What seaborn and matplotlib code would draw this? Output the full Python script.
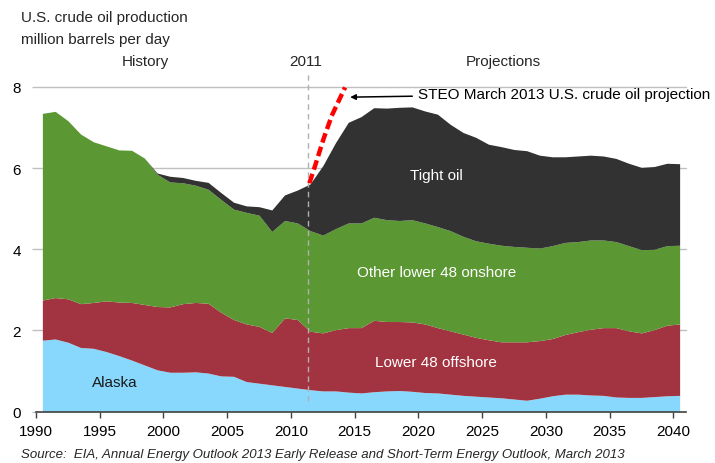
import numpy as np
import matplotlib
matplotlib.use("Agg")
import matplotlib.pyplot as plt
import seaborn as sns

# ---------------- data (million barrels per day) ----------------
years = list(range(1990, 2041))

# upper boundary of each stacked layer
alaska_top = [1.76, 1.79, 1.71, 1.58, 1.56, 1.48, 1.38, 1.27, 1.15, 1.03,
              0.97, 0.97, 0.98, 0.95, 0.88, 0.87, 0.74, 0.70, 0.66, 0.62,
              0.58, 0.54, 0.51, 0.51, 0.48, 0.46, 0.49, 0.51, 0.52, 0.50,
              0.47, 0.46, 0.43, 0.40, 0.38, 0.36, 0.34, 0.31, 0.28, 0.33,
              0.39, 0.43, 0.43, 0.41, 0.40, 0.36, 0.35, 0.35, 0.37, 0.39,
              0.40]
offshore_top = [2.75, 2.81, 2.78, 2.66, 2.69, 2.73, 2.70, 2.69, 2.64, 2.59,
                2.58, 2.66, 2.69, 2.67, 2.45, 2.27, 2.16, 2.10, 1.95, 2.31,
                2.27, 1.98, 1.94, 2.02, 2.07, 2.07, 2.25, 2.22, 2.22, 2.21,
                2.16, 2.07, 1.99, 1.91, 1.83, 1.77, 1.72, 1.72, 1.72, 1.75,
                1.80, 1.90, 1.97, 2.03, 2.07, 2.07, 1.99, 1.94, 2.02, 2.13,
                2.16]
onshore_top = [7.35, 7.40, 7.17, 6.84, 6.65, 6.55, 6.45, 6.44, 6.25, 5.85,
               5.66, 5.64, 5.58, 5.48, 5.23, 4.99, 4.91, 4.84, 4.44, 4.71,
               4.65, 4.46, 4.35, 4.51, 4.65, 4.65, 4.79, 4.73, 4.71, 4.73,
               4.65, 4.56, 4.46, 4.32, 4.21, 4.15, 4.10, 4.07, 4.05, 4.03,
               4.09, 4.17, 4.19, 4.23, 4.23, 4.19, 4.09, 3.99, 4.00, 4.09,
               4.10]
tight_top = [7.35, 7.40, 7.17, 6.84, 6.65, 6.55, 6.45, 6.44, 6.25, 5.88,
             5.80, 5.77, 5.70, 5.65, 5.40, 5.16, 5.07, 5.05, 4.97, 5.34,
             5.46, 5.61, 6.06, 6.63, 7.13, 7.27, 7.49, 7.48, 7.50, 7.51,
             7.41, 7.33, 7.08, 6.88, 6.76, 6.59, 6.53, 6.46, 6.43, 6.32,
             6.28, 6.28, 6.30, 6.32, 6.30, 6.24, 6.12, 6.02, 6.04, 6.12,
             6.11]

# STEO March 2013 projection (time in decimal years)
steo_time = [2011.45, 2011.9, 2012.55, 2013.2, 2014.25]
steo_value = [5.63, 6.06, 6.71, 7.29, 7.99]

layer_names = ["Alaska", "Lower 48 offshore", "Other lower 48 onshore", "Tight oil"]
layer_colors = ["#88D8FE", "#A23341", "#5B9733", "#323232"]
xtick_years = [1990, 1995, 2000, 2005, 2010, 2015, 2020, 2025, 2030, 2035, 2040]
ytick_values = [0, 2, 4, 6, 8]

# ---------------- style ----------------
sns.set_theme(style="white")
plt.rcParams["font.family"] = ["Liberation Sans", "DejaVu Sans"]
FS = 11

W, H = 715, 464
fig = plt.figure(figsize=(W / 100, H / 100), dpi=100)
ax = fig.add_axes([36 / W, 1 - 412.6 / H, 650 / W, (412.6 - 88) / H])

# annual averages drawn at mid-year
x = np.array(years) + 0.5
bounds = [np.zeros(len(years)), np.array(alaska_top), np.array(offshore_top),
          np.array(onshore_top), np.array(tight_top)]
for i, (name, col) in enumerate(zip(layer_names, layer_colors)):
    ax.fill_between(x, bounds[i], bounds[i + 1], color=col, lw=0, zorder=2,
                    label=name)

# gridlines
for v in ytick_values[1:]:
    ax.axhline(v, color="#C0C0C0", lw=1.0, zorder=1, clip_on=False)

# 2011 divider
ax.plot([2011.35, 2011.35], [0.26, 8.29], color="#B0B0B0", lw=1.0,
        ls=(0, (4, 3)), zorder=3, clip_on=False)

# STEO projection line
sns.lineplot(x=steo_time, y=steo_value, ax=ax, color="#FF0000", lw=3.2,
             linestyle=(0, (2.2, 1.0)), zorder=4, clip_on=False,
             dash_capstyle="butt")

ax.annotate("STEO March 2013 U.S. crude oil projection",
            xy=(2014.65, 7.75), xytext=(2020.0, 7.83),
            fontsize=FS, color="black", va="center", ha="left",
            arrowprops=dict(arrowstyle="-|>", color="black", lw=1.1,
                            mutation_scale=8, shrinkA=2, shrinkB=0),
            annotation_clip=False)

# layer labels
ax.text(2021.4, 5.83, "Tight oil", color="white", fontsize=FS, ha="center", va="center", zorder=5)
ax.text(2021.4, 3.44, "Other lower 48 onshore", color="white", fontsize=FS, ha="center", va="center", zorder=5)
ax.text(2021.4, 1.22, "Lower 48 offshore", color="white", fontsize=FS, ha="center", va="center", zorder=5)
ax.text(1996.16, 0.74, "Alaska", color="#1a1a1a", fontsize=FS, ha="center", va="center", zorder=5)

# axes
ax.set_xlim(1990, 2041)
ax.set_ylim(0, 8)
ax.set_xticks(xtick_years)
ax.set_xticklabels([str(y) for y in xtick_years])
ax.set_yticks(ytick_values)
ax.set_yticklabels([str(v) for v in ytick_values])
for s in ["top", "right", "left"]:
    ax.spines[s].set_visible(False)
ax.spines["bottom"].set_color("#404040")
ax.spines["bottom"].set_linewidth(1.2)
ax.spines["bottom"].set_zorder(6)
ax.tick_params(axis="x", length=4, width=1.0, color="#404040", direction="out",
               pad=5, labelsize=FS, labelcolor="black", bottom=True)
ax.tick_params(axis="y", length=3, width=1.0, color="#C0C0C0", pad=8,
               labelsize=FS, labelcolor="black", left=True)
ax.grid(False)
ax.set_xlabel("")
ax.set_ylabel("")
if ax.get_legend() is not None:
    ax.get_legend().remove()

# header and footer text (pixel positions converted to figure fractions)
def ftext(px, py, s, **kw):
    fig.text(px / W, 1 - py / H, s, **kw)

ftext(21, 18, "U.S. crude oil production", fontsize=FS, va="center", ha="left")
ftext(21, 40, "million barrels per day", fontsize=FS, va="center", ha="left")
ftext(145.5, 62, "History", fontsize=FS, va="center", ha="center")
ftext(305.5, 62, "2011", fontsize=FS, va="center", ha="center")
ftext(503.8, 62, "Projections", fontsize=FS, va="center", ha="center")
ftext(21, 455, "Source:  EIA, Annual Energy Outlook 2013 Early Release and Short-Term Energy Outlook, March 2013",
      fontsize=9.5, style="italic", va="center", ha="left")

fig.savefig("out.png", dpi=100)
